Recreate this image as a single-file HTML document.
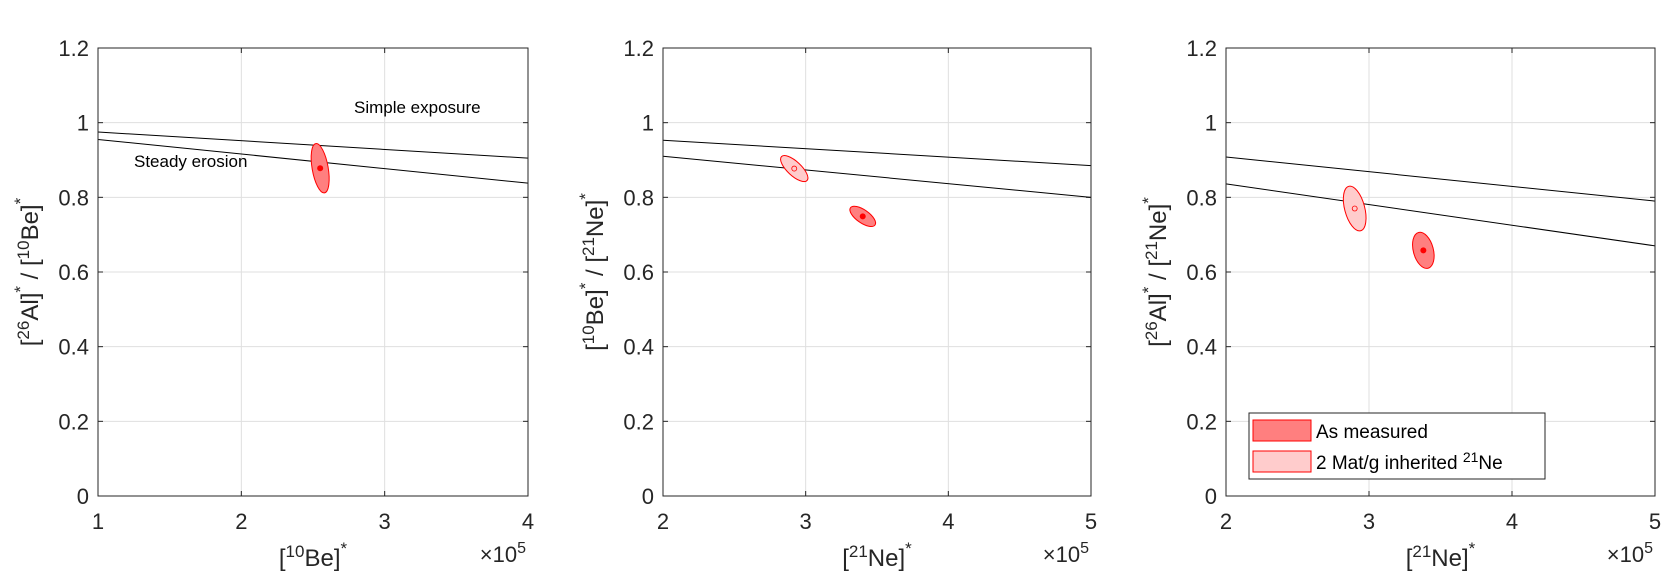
<!DOCTYPE html>
<html><head><meta charset="utf-8"><style>
html,body{margin:0;padding:0;background:#fff;}
svg{display:block;font-family:"Liberation Sans",Arial,sans-serif;}
</style></head><body>
<svg id="s" width="1668" height="583" viewBox="0 0 1668 583" xmlns="http://www.w3.org/2000/svg"></svg>
<script>
const S=document.getElementById('s');const NS='http://www.w3.org/2000/svg';
function el(t,a,txt){const e=document.createElementNS(NS,t);for(const k in a)e.setAttribute(k,a[k]);if(txt!==undefined)e.textContent=txt;S.appendChild(e);return e;}
const T=48,B=496;
const panels=[
 {L:98,R:528,x0:1,x1:4,ticks:[1,2,3,4],
  lines:[[0.975,0.905],[0.955,0.838]],
  ells:[{x:2.55,y:0.878,rx:8,ry:25,a:-10,dark:true}],
  ylab:['26','Al','10','Be'],xlab:['10','Be']},
 {L:663,R:1091,x0:2,x1:5,ticks:[2,3,4,5],
  lines:[[0.953,0.885],[0.91,0.80]],
  ells:[{x:2.92,y:0.877,rx:17.5,ry:7,a:43,dark:false},{x:3.40,y:0.749,rx:15,ry:6.5,a:35,dark:true}],
  ylab:['10','Be','21','Ne'],xlab:['21','Ne']},
 {L:1226,R:1655,x0:2,x1:5,ticks:[2,3,4,5],
  lines:[[0.908,0.79],[0.836,0.67]],
  ells:[{x:2.90,y:0.77,rx:10,ry:23,a:-15,dark:false},{x:3.38,y:0.658,rx:10,ry:18.5,a:-15,dark:true}],
  ylab:['26','Al','21','Ne'],xlab:['21','Ne']}
];
const Y=v=>B-v*(B-T)/1.2;
panels.forEach(p=>{
 const X=v=>p.L+(v-p.x0)/(p.x1-p.x0)*(p.R-p.L);
 p.ticks.forEach(t=>{const x=X(t);el('line',{x1:x,x2:x,y1:T,y2:B,stroke:'#dfdfdf','stroke-width':1});
   el('text',{x:x,y:B+33,'font-size':22,'text-anchor':'middle',fill:'#262626'},t);
   el('line',{x1:x,x2:x,y1:B,y2:B-5,stroke:'#262626'});el('line',{x1:x,x2:x,y1:T,y2:T+5,stroke:'#262626'});});
 for(let i=0;i<=6;i++){const v=i*0.2,y=Y(v);
   el('line',{x1:p.L,x2:p.R,y1:y,y2:y,stroke:'#dfdfdf','stroke-width':1});
   el('line',{x1:p.L,x2:p.L+5,y1:y,y2:y,stroke:'#262626'});el('line',{x1:p.R,x2:p.R-5,y1:y,y2:y,stroke:'#262626'});
   let lab=i==0?'0':i==5?'1':(+v.toFixed(1)).toString();
   el('text',{x:p.L-9,y:y+8,'font-size':22,'text-anchor':'end',fill:'#262626'},lab);}
 p.lines.forEach(l=>el('line',{x1:p.L,y1:Y(l[0]),x2:p.R,y2:Y(l[1]),stroke:'#000','stroke-width':1}));
 p.ells.forEach(e=>{const cx=X(e.x),cy=Y(e.y);
   el('ellipse',{cx:cx,cy:cy,rx:e.rx,ry:e.ry,transform:`rotate(${e.a} ${cx} ${cy})`,fill:e.dark?'#ff7f7f':'#ffcccc',stroke:'#ff0000','stroke-width':1});
   if(e.dark)el('circle',{cx:cx,cy:cy,r:3,fill:'#ff0000'});else el('circle',{cx:cx,cy:cy,r:2.5,fill:'none',stroke:'#ff0000','stroke-width':0.8});});
 el('rect',{x:p.L,y:T,width:p.R-p.L,height:B-T,fill:'none',stroke:'#262626','stroke-width':1});
 const xm=(p.L+p.R)/2;
 const xt=el('text',{x:xm,y:566,'font-size':24,'text-anchor':'middle',fill:'#262626'});
 xt.innerHTML=`[<tspan dy="-9" font-size="17">${p.xlab[0]}</tspan><tspan dy="9">${p.xlab[1]}]</tspan><tspan dy="-12" font-size="17">*</tspan>`;
 const xx=el('text',{x:p.R-2,y:562,'font-size':22,'text-anchor':'end',fill:'#262626'});
 xx.innerHTML=`×10<tspan dy="-9" font-size="16">5</tspan>`;
 const yt=el('text',{x:0,y:0,'font-size':24,'text-anchor':'middle',fill:'#262626',transform:`translate(${p.L-60} 272) rotate(-90)`});
 yt.innerHTML=`[<tspan dy="-9" font-size="17">${p.ylab[0]}</tspan><tspan dy="9">${p.ylab[1]}]</tspan><tspan dy="-12" font-size="17">*</tspan><tspan dy="12"> / [</tspan><tspan dy="-9" font-size="17">${p.ylab[2]}</tspan><tspan dy="9">${p.ylab[3]}]</tspan><tspan dy="-12" font-size="17">*</tspan>`;
});
el('text',{x:354,y:113,'font-size':17,fill:'#000'},'Simple exposure');
el('text',{x:134,y:167,'font-size':17,fill:'#000'},'Steady erosion');
el('rect',{x:1249,y:413,width:296,height:66,fill:'#fff',stroke:'#262626','stroke-width':1});
el('rect',{x:1253,y:420,width:58,height:21,fill:'#ff7f7f',stroke:'#ff0000','stroke-width':1});
el('rect',{x:1253,y:451,width:58,height:21,fill:'#ffcccc',stroke:'#ff0000','stroke-width':1});
el('text',{x:1316,y:438,'font-size':19,fill:'#000'},'As measured');
const lt=el('text',{x:1316,y:469,'font-size':19,fill:'#000'});
lt.innerHTML='2 Mat/g inherited <tspan dy="-7" font-size="14">21</tspan><tspan dy="7">Ne</tspan>';
</script>
</body></html>
